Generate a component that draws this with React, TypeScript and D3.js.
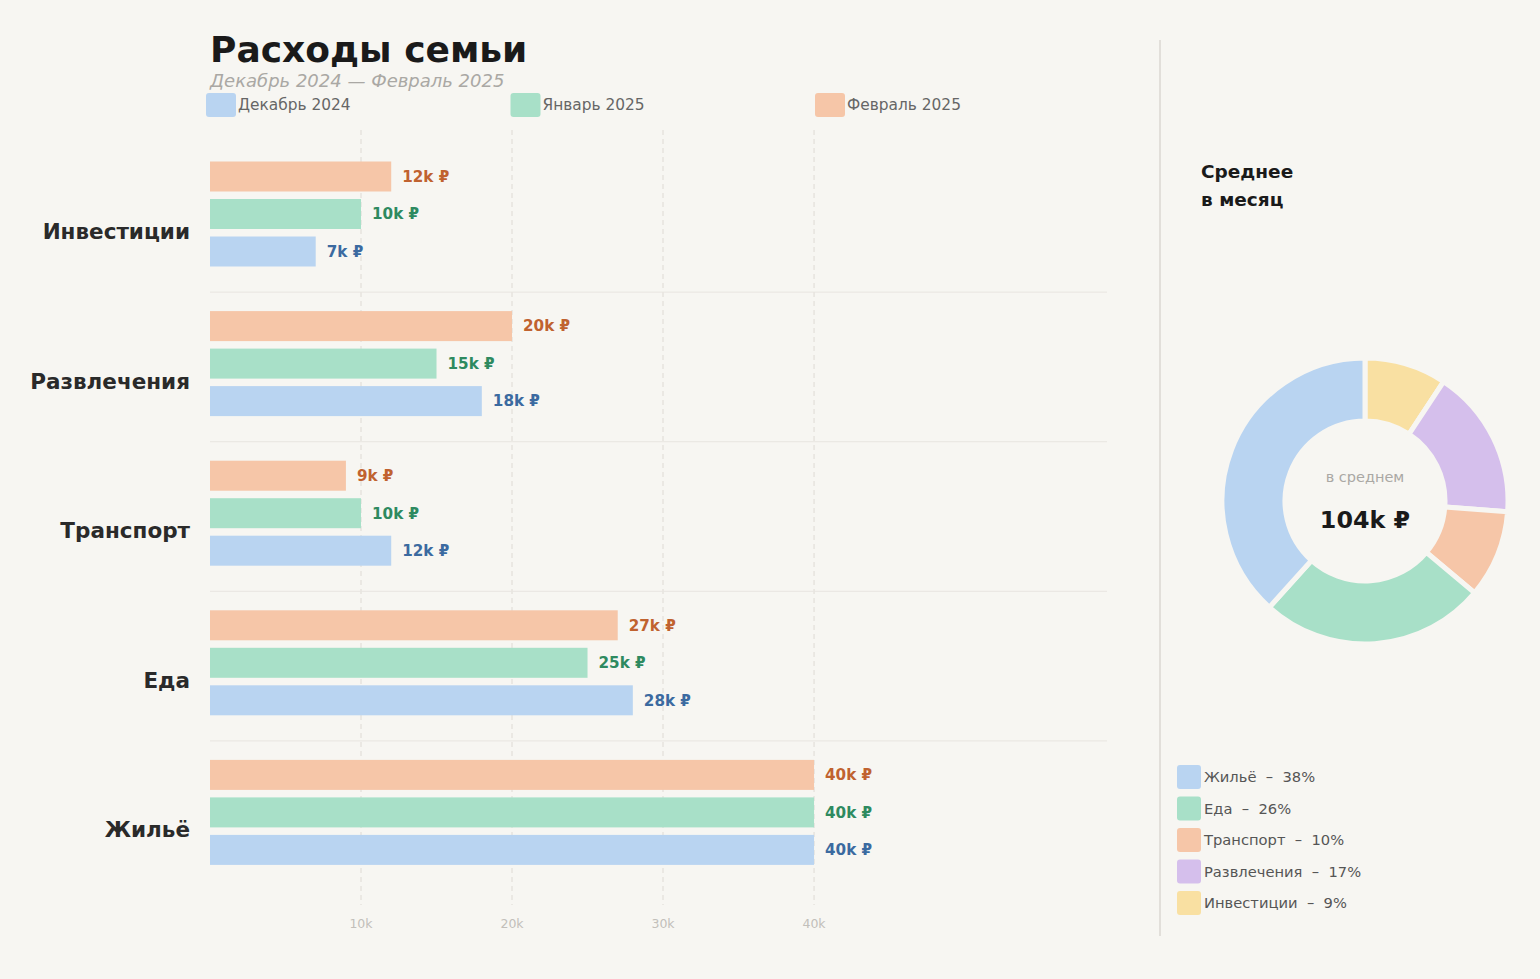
import * as d3 from 'd3'

const categories = ['Инвестиции', 'Развлечения', 'Транспорт', 'Еда', 'Жильё']
const months = ['Декабрь 2024', 'Январь 2025', 'Февраль 2025']
// thousands of rubles, per category in the order above
const decValues = [7, 18, 12, 28, 40]
const janValues = [10, 15, 10, 25, 40]
const febValues = [12, 20, 9, 27, 40]
const xTicks = [10, 20, 30, 40]
const donutOrder = ['Жильё', 'Еда', 'Транспорт', 'Развлечения', 'Инвестиции']

const W = 1540
const H = 979
const BG = '#f7f6f2'
const FONT = '"DejaVu Sans", sans-serif'

const monthColors = ['#b9d4f1', '#a8e0c8', '#f6c6a8']
const labelColors = ['#3b6aa0', '#2e8a60', '#c0622f']
const catColors: Record<string, string> = {
  'Жильё': '#b9d4f1',
  'Еда': '#a8e0c8',
  'Транспорт': '#f6c6a8',
  'Развлечения': '#d5bfec',
  'Инвестиции': '#f9e0a2',
}

export default function App() {
  const series = [decValues, janValues, febValues]

  const x = d3.scaleLinear().domain([0, 59.4]).range([210, 1107])
  const y = d3.scaleBand<string>().domain(categories).range([142.5, 890.5])
  // Feb on top, Dec at the bottom
  const inner = d3.scaleBand<number>().domain([2, 1, 0]).range([19, 124]).paddingInner(0.2)

  // monthly averages for donut
  const avg = categories.map((c, i) => ({
    name: c,
    value: (decValues[i] + janValues[i] + febValues[i]) / months.length,
  }))
  const total = d3.sum(avg, d => d.value)
  const ordered = donutOrder.map(n => avg.find(a => a.name === n)!)
  const pie = d3.pie<{ name: string; value: number }>().sort(null).value(d => d.value)
  const arcs = pie([...ordered].reverse())
  const arc = d3.arc<d3.PieArcDatum<{ name: string; value: number }>>()
    .innerRadius(80)
    .outerRadius(143)

  return (
    <div style={{ position: 'absolute', left: 0, top: 0 }}>
      <svg width={W} height={H} style={{ display: 'block', fontFamily: FONT }}>
        <rect width={W} height={H} fill={BG} />

        {/* title */}
        <text x={210} y={62} fontSize={36} fontWeight="bold" fill="#1a1a1a">Расходы семьи</text>
        <text x={210} y={87} fontSize={18} fontStyle="italic" fill="#aaa8a4">
          Декабрь 2024 — Февраль 2025
        </text>

        {/* legend */}
        {months.map((m, i) => (
          <g key={m} transform={`translate(${206 + i * 304.5},93)`}>
            <rect width={30} height={24} rx={3} fill={monthColors[i]} />
            <text x={32} y={12} dy="0.35em" fontSize={15.4} fill="#666">{m}</text>
          </g>
        ))}

        {/* grid */}
        {xTicks.map(t => (
          <g key={t}>
            <line x1={x(t)} x2={x(t)} y1={130} y2={905} stroke="#dedad4" strokeDasharray="5,4" />
            <text x={x(t)} y={924} dy="0.35em" textAnchor="middle" fontSize={12.5} fill="#c2bfba">{t}k</text>
          </g>
        ))}

        {/* group separators */}
        {categories.slice(1).map(c => (
          <line key={c} x1={210} x2={1107} y1={y(c)!} y2={y(c)!} stroke="#e8e5e0" />
        ))}

        {/* bars */}
        {categories.map((c, ci) => (
          <g key={c} transform={`translate(0,${y(c)})`}>
            <text x={190} y={89} dy="0.35em" textAnchor="end" fontSize={21.5} fontWeight="bold" fill="#2a2a2a">{c}</text>
            {series.map((s, si) => (
              <g key={si}>
                <rect x={x(0)} y={inner(si)!} width={x(s[ci]) - x(0)} height={inner.bandwidth()} fill={monthColors[si]} />
                <text
                  x={x(s[ci]) + 11}
                  y={inner(si)! + inner.bandwidth() / 2}
                  dy="0.35em"
                  fontSize={15.2}
                  fontWeight="bold"
                  fill={labelColors[si]}
                >
                  {s[ci]}k ₽
                </text>
              </g>
            ))}
          </g>
        ))}

        {/* divider */}
        <line x1={1160} x2={1160} y1={40} y2={936} stroke="#e2dfda" strokeWidth={2} />

        {/* right panel */}
        <text x={1201} y={178} fontSize={18.5} fontWeight="bold" fill="#1a1a1a">Среднее</text>
        <text x={1201} y={206} fontSize={18.5} fontWeight="bold" fill="#1a1a1a">в месяц</text>

        <g transform="translate(1365,501)">
          {arcs.map(a => (
            <path key={a.data.name} d={arc(a)!} fill={catColors[a.data.name]} stroke={BG} strokeWidth={5} />
          ))}
          <text y={-24} dy="0.35em" textAnchor="middle" fontSize={14.5} fill="#aaa8a4">в среднем</text>
          <text y={19} dy="0.35em" textAnchor="middle" fontSize={23.8} fontWeight="bold" fill="#1a1a1a">
            {Math.round(total)}k ₽
          </text>
        </g>

        {ordered.map((d, i) => (
          <g key={d.name} transform={`translate(1177,${765 + i * 31.5})`}>
            <rect width={24} height={24} rx={3} fill={catColors[d.name]} />
            <text x={27} y={12} dy="0.35em" fontSize={14.7} fill="#555" style={{ whiteSpace: 'pre' }}>
              {`${d.name}  –  ${Math.round((d.value / total) * 100)}%`}
            </text>
          </g>
        ))}
      </svg>
    </div>
  )
}
